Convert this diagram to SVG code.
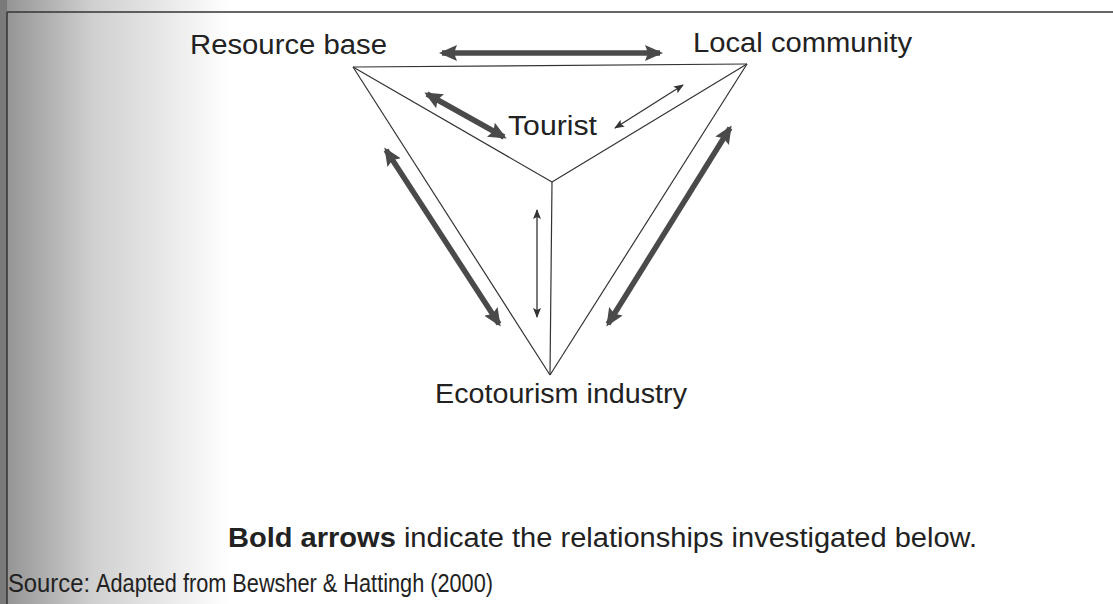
<svg xmlns="http://www.w3.org/2000/svg" width="1113" height="604" viewBox="0 0 1113 604">
<defs>
<linearGradient id="shade" x1="0" y1="0" x2="1" y2="0">
<stop offset="0" stop-color="#909090"/>
<stop offset="0.4" stop-color="#cfcfcf"/>
<stop offset="1" stop-color="#ffffff"/>
</linearGradient>
<marker id="bh" viewBox="0 0 18 16" refX="15" refY="8" markerWidth="18" markerHeight="16" markerUnits="userSpaceOnUse" orient="auto-start-reverse">
<path d="M0,0 L18,8 L0,16 L3,8 Z" fill="#4a4a4a"/>
</marker>
<marker id="th" viewBox="0 0 10 8" refX="9" refY="4" markerWidth="10" markerHeight="8" markerUnits="userSpaceOnUse" orient="auto-start-reverse">
<path d="M0,0 L10,4 L0,8 L2,4 Z" fill="#333"/>
</marker>
</defs>
<style>
.lbl{font-family:"Liberation Sans",Arial,sans-serif;font-size:27px;fill:#222}
.narrow{font-family:"Liberation Sans Narrow","Liberation Sans",Arial,sans-serif;font-size:26px;fill:#222}
.edge{stroke:#333;stroke-width:1.2;fill:none}
.bold{stroke:#4a4a4a;stroke-width:5.5;fill:none;marker-start:url(#bh);marker-end:url(#bh)}
.thin{stroke:#333;stroke-width:1.3;fill:none;marker-start:url(#th);marker-end:url(#th)}
</style>
<rect width="1113" height="604" fill="#ffffff"/>
<rect x="0" y="0" width="230" height="604" fill="url(#shade)"/>
<rect x="0" y="0" width="7" height="604" fill="#7a7a7a"/>
<line x1="7" y1="12" x2="1113" y2="12" stroke="#333" stroke-width="1.5"/>
<line x1="7" y1="12" x2="7" y2="604" stroke="#333" stroke-width="1.5"/>

<g id="connectors">
<line class="edge" x1="353" y1="67" x2="747" y2="64"/>
<line class="edge" x1="353" y1="67" x2="550" y2="375"/>
<line class="edge" x1="747" y1="64" x2="550" y2="375"/>
<line class="edge" x1="353" y1="67" x2="552" y2="182"/>
<line class="edge" x1="747" y1="64" x2="552" y2="182"/>
<line class="edge" x1="552" y1="182" x2="550" y2="375"/>
<line class="bold" x1="442" y1="53" x2="660" y2="53"/>
<line class="bold" x1="427" y1="94" x2="504" y2="137"/>
<line class="bold" x1="386" y1="150" x2="499" y2="324"/>
<line class="bold" x1="608" y1="324" x2="730" y2="128"/>
<line class="thin" x1="615" y1="128" x2="683" y2="85"/>
<line class="thin" x1="537" y1="210" x2="537" y2="317"/>
</g>

<g id="node-resource-base"><text class="lbl" x="190" y="54" textLength="197" lengthAdjust="spacingAndGlyphs">Resource base</text></g>
<g id="node-local-community"><text class="lbl" x="693" y="52" textLength="219" lengthAdjust="spacingAndGlyphs">Local community</text></g>
<g id="node-tourist"><text class="lbl" x="508" y="135" textLength="89" lengthAdjust="spacingAndGlyphs">Tourist</text></g>
<g id="node-ecotourism-industry"><text class="lbl" x="435" y="403" textLength="252" lengthAdjust="spacingAndGlyphs">Ecotourism industry</text></g>

<g id="caption">
<text class="lbl" x="228" y="547" textLength="749" lengthAdjust="spacingAndGlyphs"><tspan font-weight="bold">Bold arrows</tspan> indicate the relationships investigated below.</text>
<text class="narrow" x="8" y="592" textLength="82" lengthAdjust="spacingAndGlyphs">Source:</text>
<text class="lbl" x="96" y="592" textLength="397" lengthAdjust="spacingAndGlyphs" style="font-size:26px">Adapted from Bewsher &amp; Hattingh (2000)</text>
</g>
</svg>
